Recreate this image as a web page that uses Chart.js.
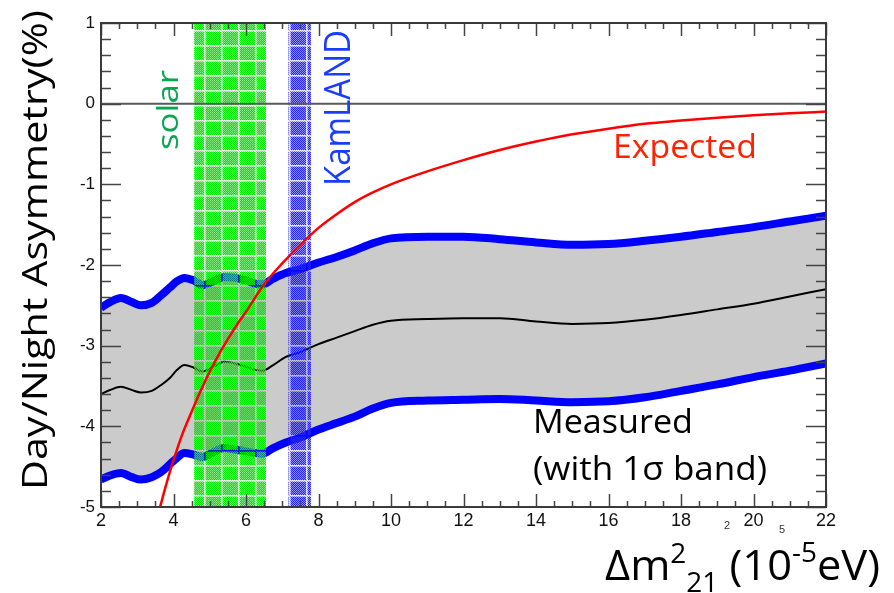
<!DOCTYPE html>
<html>
<head>
<meta charset="utf-8">
<script src="https://cdn.jsdelivr.net/npm/chart.js@4.4.1/dist/chart.umd.min.js"></script>
<style>
  html, body { margin: 0; padding: 0; background: #fff; overflow: hidden; }
  canvas { display: block; }
</style>
</head>
<body>
<canvas id="c" width="894" height="593"></canvas>
<script>
// Δm²21 grid (10^-5 eV) for the measured asymmetry and its 1σ band
const measuredX = [2.0, 2.25, 2.55, 2.85, 3.1, 3.4, 3.65, 3.9, 4.1, 4.3, 4.55, 4.8, 5.1, 5.4, 5.7, 6.0, 6.25, 6.45, 6.75, 7.1, 7.5, 8.0, 8.5, 9.0, 9.5, 10, 11, 12, 13, 14, 15, 16, 17, 18, 19, 20, 21, 22];
const measuredUpper = [-2.53, -2.46, -2.41, -2.46, -2.50, -2.47, -2.38, -2.28, -2.20, -2.16, -2.19, -2.25, -2.20, -2.15, -2.16, -2.19, -2.23, -2.24, -2.17, -2.10, -2.05, -1.97, -1.90, -1.82, -1.73, -1.67, -1.65, -1.65, -1.68, -1.72, -1.75, -1.74, -1.70, -1.65, -1.59, -1.53, -1.46, -1.39];
const measuredCentral = [-3.60, -3.55, -3.51, -3.55, -3.58, -3.56, -3.49, -3.40, -3.30, -3.24, -3.27, -3.32, -3.26, -3.20, -3.22, -3.26, -3.30, -3.31, -3.24, -3.14, -3.08, -2.98, -2.90, -2.82, -2.74, -2.69, -2.67, -2.66, -2.66, -2.70, -2.73, -2.72, -2.68, -2.62, -2.55, -2.48, -2.39, -2.30];
const measuredLower = [-4.66, -4.61, -4.58, -4.63, -4.66, -4.63, -4.57, -4.47, -4.39, -4.33, -4.35, -4.38, -4.32, -4.27, -4.29, -4.31, -4.33, -4.34, -4.27, -4.20, -4.14, -4.04, -3.96, -3.88, -3.78, -3.71, -3.68, -3.67, -3.66, -3.68, -3.70, -3.69, -3.64, -3.56, -3.48, -3.39, -3.31, -3.22];

// Expected day/night asymmetry
const expectedX = [3.6, 3.8, 4.0, 4.25, 4.5, 4.75, 5.0, 5.25, 5.5, 5.75, 6.0, 6.5, 7.0, 7.5, 8.0, 8.5, 9.0, 9.5, 10, 11, 12, 13, 14, 15, 16, 17, 18, 19, 20, 21, 22];
const expectedAsym = [-5.05, -4.72, -4.42, -4.09, -3.82, -3.56, -3.32, -3.11, -2.92, -2.74, -2.58, -2.24, -1.98, -1.75, -1.54, -1.37, -1.22, -1.10, -1.00, -0.84, -0.70, -0.575, -0.47, -0.38, -0.31, -0.25, -0.21, -0.175, -0.145, -0.12, -0.098];

// Allowed Δm²21 ranges
const solarRange = [4.57, 6.55];
const kamlandRange = [7.17, 7.79];

// Axis tick labels
const xTickValues = [2, 4, 6, 8, 10, 12, 14, 16, 18, 20, 22];
const yTickValues = [1, 0, -1, -2, -3, -4, -5];

const pts = (xs, ys) => xs.map((x, i) => ({ x: x, y: ys[i] }));

const SLIDE_FONT = '"Open Sans", "Noto Sans", sans-serif';
const AXIS_FONT = '"Liberation Sans", Arial, sans-serif';

// dithered hatch used for the allowed-range bands
function makeTile(w, h, rgb) {
  const cv = document.createElement('canvas');
  cv.width = w; cv.height = h;
  const g = cv.getContext('2d');
  for (let y = 0; y < h; y++) {
    for (let x = 0; x < w; x++) {
      const even = ((x + y) & 1) === 0;
      let a;
      if (x === 0 || y === 0) a = even ? 0.25 : 0;
      else if (x === 1 || y === 1) a = even ? 0.6 : 0.15;
      else a = even ? 1 : 0.5;
      if (a <= 0) continue;
      g.fillStyle = 'rgba(' + rgb + ',' + a + ')';
      g.fillRect(x, y, 1, 1);
    }
  }
  return cv;
}

function fitText(ctx, text, x, y, font, width, rot, color) {
  ctx.save();
  ctx.font = font;
  ctx.fillStyle = color;
  ctx.textAlign = 'left';
  ctx.textBaseline = 'alphabetic';
  ctx.translate(x, y);
  if (rot) ctx.rotate(rot);
  const w = ctx.measureText(text).width;
  ctx.scale(width / w, 1);
  ctx.fillText(text, 0, 0);
  ctx.restore();
}

const bandsPlugin = {
  id: 'bands',
  afterDatasetDraw(chart, args) {
    if (args.index !== 2) return;
    const { ctx, chartArea: ca, scales: { x } } = chart;
    const greenTile = makeTile(17, 15, '0,232,0');
    const blueTile = makeTile(17, 15, '35,35,255');
    ctx.save();
    [[solarRange, greenTile], [kamlandRange, blueTile]].forEach(([r, tile]) => {
      const x0 = x.getPixelForValue(r[0]);
      const x1 = x.getPixelForValue(r[1]);
      ctx.fillStyle = ctx.createPattern(tile, 'repeat');
      ctx.fillRect(x0, ca.top, x1 - x0, ca.bottom - ca.top);
    });
    ctx.restore();
  }
};

const framePlugin = {
  id: 'frame',
  afterDraw(chart) {
    const { ctx, chartArea: { left, right, top, bottom }, scales: { x, y } } = chart;
    ctx.save();
    // zero line
    ctx.strokeStyle = '#5a5a5a';
    ctx.lineWidth = 2;
    const y0 = y.getPixelForValue(0);
    ctx.beginPath(); ctx.moveTo(left, y0); ctx.lineTo(right, y0); ctx.stroke();

    // tick marks on all four sides, pointing inward
    ctx.strokeStyle = '#444';
    ctx.lineWidth = 1.5;
    ctx.beginPath();
    for (let i = 0; i <= 40; i++) {
      const v = 2 + i * 0.5;
      const px = Math.round(x.getPixelForValue(v)) + 0.5;
      const len = (i % 4 === 0) ? 13 : 6;
      ctx.moveTo(px, bottom); ctx.lineTo(px, bottom - len);
      ctx.moveTo(px, top); ctx.lineTo(px, top + len);
    }
    for (let i = 0; i <= 30; i++) {
      const v = -5 + i * 0.2;
      const py = Math.round(y.getPixelForValue(v)) + 0.5;
      const len = (i % 5 === 0) ? 20 : 10;
      ctx.moveTo(left, py); ctx.lineTo(left + len, py);
      ctx.moveTo(right, py); ctx.lineTo(right - len, py);
    }
    ctx.stroke();

    // frame
    ctx.strokeStyle = '#3a3a3a';
    ctx.lineWidth = 2;
    ctx.strokeRect(left, top, right - left, bottom - top);
    ctx.restore();

    // annotations
    fitText(ctx, 'solar', 178, 150, '30px ' + SLIDE_FONT, 80, -Math.PI / 2, '#0aa552');
    fitText(ctx, 'KamLAND', 350, 186, '37px ' + SLIDE_FONT, 156, -Math.PI / 2, '#1a3cff');
    fitText(ctx, 'Expected', 613, 158, '32px ' + SLIDE_FONT, 144, 0, '#ff2200');
    fitText(ctx, 'Measured', 533, 433, '32px ' + SLIDE_FONT, 160, 0, '#000');
    fitText(ctx, '(with 1σ band)', 533, 480, '32px ' + SLIDE_FONT, 234, 0, '#000');

    // y-axis title
    fitText(ctx, 'Day/Night Asymmetry(%)', 47, 490, '35px ' + SLIDE_FONT, 480, -Math.PI / 2, '#000');

    // x-axis title: Δm²21 (10^-5 eV)
    const big = '42px ' + SLIDE_FONT, small = '27px ' + SLIDE_FONT;
    const segs = [
      { t: 'Δm', f: big, dy: 0 },
      { t: '2', f: small, dy: -17 },
      { t: '21', f: small, dy: 12 },
      { t: ' (10', f: big, dy: 0 },
      { t: '-5', f: small, dy: -18 },
      { t: 'eV)', f: big, dy: 0 }
    ];
    ctx.save();
    let total = 0;
    segs.forEach(s => { ctx.font = s.f; s.w = ctx.measureText(s.t).width; total += s.w; });
    const sx = 275 / total;
    ctx.translate(605, 580);
    ctx.scale(sx, 1);
    ctx.fillStyle = '#000';
    ctx.textBaseline = 'alphabetic';
    let cx = 0;
    segs.forEach(s => { ctx.font = s.f; ctx.fillText(s.t, cx, s.dy); cx += s.w; });
    ctx.restore();

    // small stray glyphs under the axis
    ctx.save();
    ctx.fillStyle = '#333';
    ctx.font = '11px ' + AXIS_FONT;
    ctx.fillText('2', 724, 529);
    ctx.fillText('5', 779, 533);
    ctx.restore();
  }
};

function build() {
  new Chart(document.getElementById('c'), {
    type: 'line',
    data: {
      datasets: [
        { label: 'upper', data: pts(measuredX, measuredUpper), borderColor: '#0000ff', borderWidth: 8, fill: false, order: 2, clip: 0 },
        { label: 'lower', data: pts(measuredX, measuredLower), borderColor: '#0000ff', borderWidth: 8, fill: { target: 0 }, backgroundColor: '#cbcbcb', order: 3, clip: 0 },
        { label: 'Measured', data: pts(measuredX, measuredCentral), borderColor: '#000', borderWidth: 2, fill: false, order: 1, clip: 0 },
        { label: 'Expected', data: pts(expectedX, expectedAsym), borderColor: '#ff0000', borderWidth: 2.5, fill: false, order: 0, clip: 0 }
      ]
    },
    options: {
      responsive: false,
      animation: false,
      devicePixelRatio: 1,
      layout: { padding: { top: 23, right: 68, left: 0, bottom: 0 } },
      elements: {
        point: { radius: 0 },
        line: { cubicInterpolationMode: 'monotone', borderCapStyle: 'butt', borderJoinStyle: 'round' }
      },
      plugins: {
        legend: { display: false },
        tooltip: { enabled: false },
        filler: { drawTime: 'beforeDatasetsDraw' }
      },
      scales: {
        x: {
          type: 'linear', min: 2, max: 22,
          afterBuildTicks: s => { s.ticks = xTickValues.map(v => ({ value: v })); },
          afterFit: s => { s.height = 86; },
          grid: { display: false, drawTicks: false },
          border: { display: false },
          ticks: { font: { family: AXIS_FONT, size: 18 }, color: '#111', padding: 3, maxRotation: 0, autoSkip: false }
        },
        y: {
          type: 'linear', min: -5, max: 1,
          afterBuildTicks: s => { s.ticks = yTickValues.map(v => ({ value: v })); },
          afterFit: s => { s.width = 101; },
          grid: { display: false, drawTicks: false },
          border: { display: false },
          ticks: { font: { family: AXIS_FONT, size: 17 }, color: '#111', padding: 6, autoSkip: false }
        }
      }
    },
    plugins: [bandsPlugin, framePlugin]
  });
}

const fontLoads = ['35px "Open Sans"', '17px "Liberation Sans"'].map(f => document.fonts.load(f).catch(() => null));
Promise.all(fontLoads).then(build, build);
</script>
</body>
</html>
